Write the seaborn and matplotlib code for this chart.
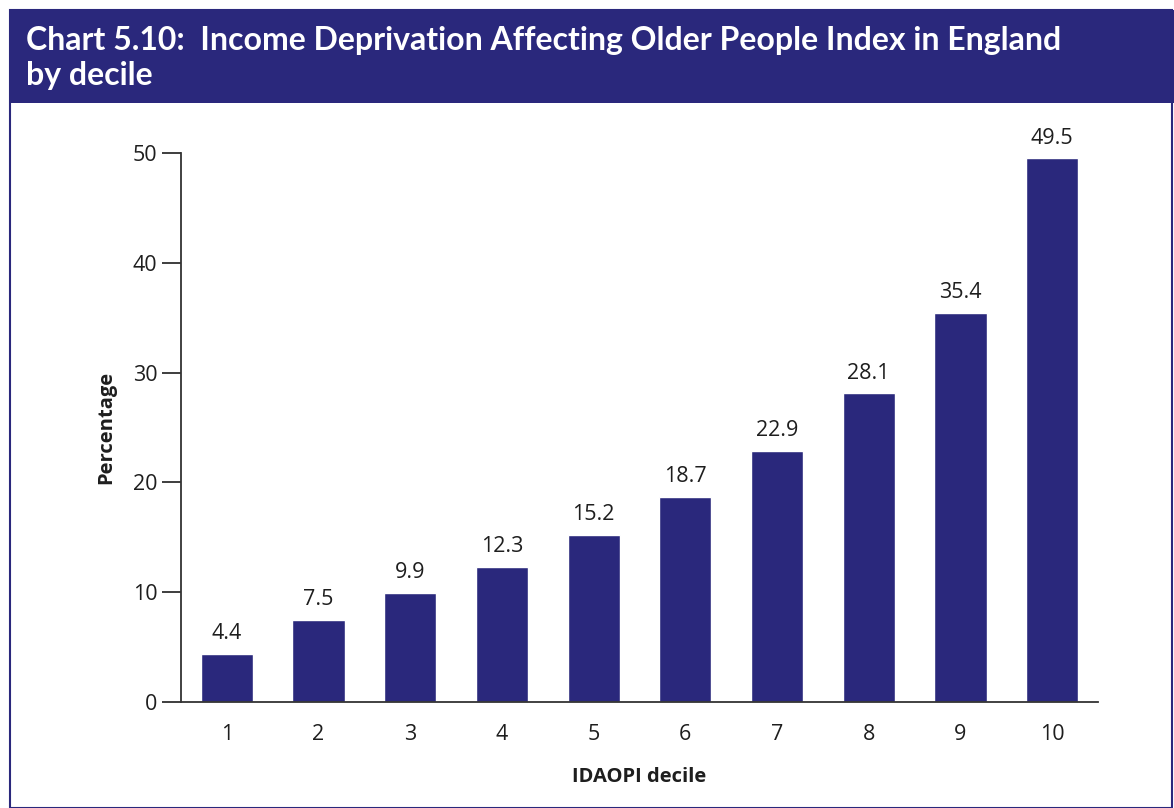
import matplotlib
matplotlib.use('Agg')
import matplotlib.pyplot as plt
import seaborn as sns
import pandas as pd
from matplotlib.patches import Rectangle

# Data
deciles = ['1', '2', '3', '4', '5', '6', '7', '8', '9', '10']
percentages = [4.4, 7.5, 9.9, 12.3, 15.2, 18.7, 22.9, 28.1, 35.4, 49.5]

df = pd.DataFrame({'decile': deciles, 'pct': percentages})

navy = '#2a287c'
ink = '#1e1e1e'

sns.set_style('white')
plt.rcParams['font.family'] = ['Open Sans', 'DejaVu Sans']

fig = plt.figure(figsize=(11.74, 8.08), dpi=100)
ax = fig.add_axes([181 / 1174, 1 - 702 / 808, (1098 - 181) / 1174, (702 - 153) / 808])

sns.barplot(data=df, x='decile', y='pct', color=navy, saturation=1, width=0.57, ax=ax)

for i, v in enumerate(percentages):
    ax.text(i, v + 0.9, f'{v:.1f}', ha='center', va='bottom', fontsize=15.5,
            color=ink, clip_on=False)

ax.set_xlim(-0.5, 9.5)
ax.set_ylim(0, 50)
ax.set_yticks([0, 10, 20, 30, 40, 50])
ax.tick_params(axis='y', direction='out', length=14, width=1.2, color=ink,
               labelsize=15.5, labelcolor=ink, pad=3, left=True)
ax.tick_params(axis='x', length=0, labelsize=15.5, labelcolor=ink, pad=16)
ax.set_xlabel('IDAOPI decile', fontsize=14.5, fontweight='bold', labelpad=16, color=ink)
ax.set_ylabel('Percentage', fontsize=14.5, fontweight='bold', labelpad=12, color=ink)
sns.despine(ax=ax)
for s in ['left', 'bottom']:
    ax.spines[s].set_color('#333333')
    ax.spines[s].set_linewidth(1.3)

# Frame and title banner
fig.patches.append(Rectangle((10 / 1174, 0), (1172 - 10) / 1174, 1 - 10 / 808,
                             transform=fig.transFigure, fill=False,
                             edgecolor=navy, linewidth=1.5))
fig.patches.append(Rectangle((10 / 1174, 1 - 103 / 808), 1 - 10 / 1174, 93 / 808,
                             transform=fig.transFigure, facecolor=navy,
                             edgecolor='none'))
fig.text(26 / 1174, 1 - 58 / 808,
         'Chart 5.10:  Income Deprivation Affecting Older People Index in England\nby decile',
         color='white', fontsize=23, fontweight='bold', va='center', ha='left',
         linespacing=1.22, family=['Lato', 'DejaVu Sans'])

fig.savefig('out.png', dpi=100)
